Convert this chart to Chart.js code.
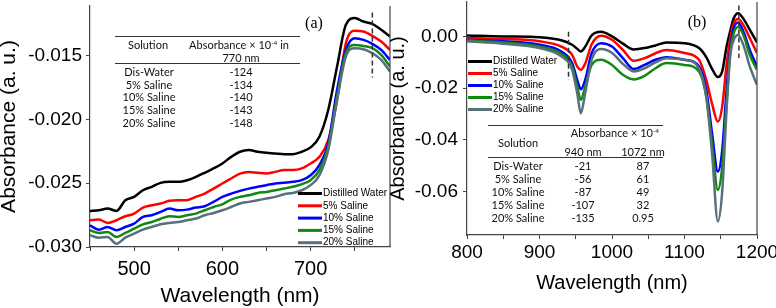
<!DOCTYPE html>
<html lang="en">
<head>
<meta charset="UTF-8">
<title>Absorbance spectra of saline solutions</title>
<script src="https://cdn.jsdelivr.net/npm/chart.js"></script>
<style>
  html, body { margin: 0; padding: 0; background: #fff; }
  #wrap { position: relative; width: 776px; height: 308px; overflow: hidden; }
  canvas { position: absolute; top: 0; }
  #chartA { left: 0; }
  #chartB { left: 390px; }
  .cell { position: absolute; transform: translate(-50%, -50%); white-space: nowrap;
          font-family: Lato, "Open Sans", sans-serif; font-size: 11px; line-height: 1; color: #111; }
  .cell sup { font-size: 6.5px; vertical-align: 4px; line-height: 0; }
  .rule { position: absolute; height: 0; border-top: 1px solid #333; }
</style>
</head>
<body>
<div id="wrap">
  <canvas id="chartA" width="392" height="308"></canvas>
  <canvas id="chartB" width="386" height="308"></canvas>
</div>
<script>
// ---- panel (a): 450-790 nm ----
const wlA = [450, 460, 470, 480, 490, 500, 510, 520, 530, 540, 550, 560, 570, 580, 590, 600, 610,
             620, 630, 640, 650, 660, 670, 680, 690, 700, 710, 720, 730, 740, 750, 760, 770, 780, 790];
const waterA = [-0.02717, -0.02712, -0.02699, -0.02717, -0.02633, -0.02607, -0.02555, -0.02528, -0.02497,
                -0.02489, -0.02489, -0.02476, -0.02450, -0.02418, -0.02384, -0.02345, -0.02293, -0.02253,
                -0.02240, -0.02253, -0.02261, -0.02266, -0.02272, -0.02272, -0.02253, -0.02219, -0.02135,
                -0.01926, -0.01585, -0.01258, -0.01205, -0.01232, -0.01250, -0.01297, -0.01349];
const sal5A = [-0.02790, -0.02785, -0.02811, -0.02790, -0.02759, -0.02738, -0.02691, -0.02673, -0.02659,
               -0.02638, -0.02633, -0.02633, -0.02607, -0.02581, -0.02542, -0.02502, -0.02463, -0.02424,
               -0.02411, -0.02418, -0.02424, -0.02411, -0.02397, -0.02397, -0.02384, -0.02345, -0.02293,
               -0.02162, -0.01847, -0.01402, -0.01305, -0.01310, -0.01344, -0.01389, -0.01454];
const sal10A = [-0.02830, -0.02864, -0.02843, -0.02869, -0.02843, -0.02817, -0.02764, -0.02751, -0.02725,
                -0.02699, -0.02712, -0.02707, -0.02691, -0.02680, -0.02646, -0.02607, -0.02581, -0.02560,
                -0.02542, -0.02528, -0.02515, -0.02502, -0.02497, -0.02489, -0.02476, -0.02437, -0.02358,
                -0.02188, -0.01769, -0.01454, -0.01363, -0.01376, -0.01407, -0.01454, -0.01533];
const sal15A = [-0.02869, -0.02890, -0.02882, -0.02921, -0.02890, -0.02856, -0.02822, -0.02804, -0.02778,
                -0.02759, -0.02764, -0.02751, -0.02738, -0.02712, -0.02686, -0.02665, -0.02628, -0.02607,
                -0.02594, -0.02576, -0.02568, -0.02555, -0.02542, -0.02528, -0.02507, -0.02476, -0.02397,
                -0.02214, -0.01821, -0.01480, -0.01415, -0.01423, -0.01441, -0.01494, -0.01585];
const sal20A = [-0.02908, -0.02927, -0.02921, -0.02974, -0.02927, -0.02895, -0.02864, -0.02843, -0.02822,
                -0.02811, -0.02804, -0.02790, -0.02777, -0.02751, -0.02733, -0.02712, -0.02686, -0.02659,
                -0.02646, -0.02633, -0.02620, -0.02607, -0.02586, -0.02576, -0.02555, -0.02515, -0.02437,
                -0.02240, -0.01847, -0.01507, -0.01441, -0.01449, -0.01480, -0.01533, -0.01625];

// ---- panel (b): 800-1200 nm ----
const wlB = [800, 850, 900, 930, 945, 952, 957, 963, 972, 985, 1000, 1015, 1030, 1045, 1060, 1075,
             1100, 1120, 1130, 1138, 1146, 1152, 1158, 1163, 1168, 1174, 1182, 1190, 1200];
const waterB = [0.0004, 0.0000, -0.0003, -0.0015, -0.0032, -0.0048, -0.0058, -0.0040, 0.0004, 0.0018,
                0.0000, -0.0028, -0.0050, -0.0045, -0.0035, -0.0023, -0.0026, -0.0045, -0.0080, -0.0125,
                -0.0157, -0.0135, -0.0040, 0.0020, 0.0071, 0.0090, 0.0065, 0.0026, -0.0023];
const sal5B = [-0.0006, -0.0010, -0.0019, -0.0039, -0.0071, -0.0116, -0.0129, -0.0105, -0.0030, 0.0003,
               -0.0013, -0.0052, -0.0094, -0.0084, -0.0065, -0.0052, -0.0064, -0.0090, -0.0168, -0.0260,
               -0.0329, -0.0271, -0.0110, -0.0010, 0.0050, 0.0067, 0.0040, -0.0006, -0.0064];
const sal10B = [-0.0013, -0.0019, -0.0032, -0.0058, -0.0103, -0.0168, -0.0204, -0.0168, -0.0064, -0.0026,
                -0.0039, -0.0084, -0.0126, -0.0110, -0.0090, -0.0080, -0.0090, -0.0116, -0.0206, -0.0374,
                -0.0522, -0.0440, -0.0210, -0.0052, 0.0032, 0.0054, 0.0013, -0.0052, -0.0116];
const sal15B = [-0.0015, -0.0023, -0.0039, -0.0067, -0.0116, -0.0194, -0.0245, -0.0194, -0.0110, -0.0090,
                -0.0110, -0.0148, -0.0166, -0.0152, -0.0123, -0.0103, -0.0110, -0.0135, -0.0232, -0.0413,
                -0.0593, -0.0503, -0.0258, -0.0065, 0.0013, 0.0036, 0.0000, -0.0071, -0.0129];
const sal20B = [-0.0019, -0.0028, -0.0045, -0.0077, -0.0129, -0.0219, -0.0297, -0.0219, -0.0090, -0.0049,
                -0.0064, -0.0106, -0.0135, -0.0123, -0.0100, -0.0084, -0.0090, -0.0123, -0.0232, -0.0451,
                -0.0715, -0.0600, -0.0284, -0.0077, -0.0013, 0.0006, -0.0039, -0.0116, -0.0187];

const seriesNames = ['Distilled Water', '5% Saline', '10% Saline', '15% Saline', '20% Saline'];
const seriesColors = ['#000000', '#ff0000', '#0000ff', '#118811', '#56707c'];

// inset tables
const solutions = ['Dis-Water', '5% Saline', '10% Saline', '15% Saline', '20% Saline'];
const abs770 = ['-124', '-134', '-140', '-143', '-148'];
const abs940 = ['-21', '-56', '-87', '-107', '-135'];
const abs1072 = ['87', '61', '49', '32', '0.95'];

// dashed marker lines: [wavelength, from, to]
const markersA = [[770, -0.0116, -0.0167]];
const markersB = [[940, 0.0018, -0.0168], [1175, 0.0119, -0.0083]];

const FONT = '"Liberation Sans", Arial, sans-serif';

function toPoints(xs, ys) { return xs.map((x, i) => ({ x: x, y: ys[i] })); }

function makeDatasets(xs, list) {
  return list.map((ys, i) => ({
    label: seriesNames[i],
    data: toPoints(xs, ys),
    borderColor: seriesColors[i],
    borderWidth: 2.5,
    pointRadius: 0,
    cubicInterpolationMode: 'monotone',
    order: list.length - i
  }));
}

// extra drawing: right frame, dashed markers, inline legend, panel letter
const decor = {
  id: 'decor',
  afterDatasetsDraw(chart, args, opts) {
    const { ctx, chartArea: area, scales: { x, y } } = chart;
    ctx.save();
    ctx.strokeStyle = '#444';
    ctx.lineWidth = 1.2;
    ctx.beginPath();
    ctx.moveTo(area.right, area.top);
    ctx.lineTo(area.right, area.bottom);
    ctx.stroke();

    ctx.setLineDash([5, 3]);
    ctx.lineWidth = 1.5;
    ctx.strokeStyle = '#333';
    opts.markers.forEach(m => {
      const px = x.getPixelForValue(m[0]);
      ctx.beginPath();
      ctx.moveTo(px, y.getPixelForValue(m[1]));
      ctx.lineTo(px, y.getPixelForValue(m[2]));
      ctx.stroke();
    });
    ctx.setLineDash([]);

    ctx.font = '10px ' + FONT;
    ctx.textBaseline = 'middle';
    ctx.textAlign = 'left';
    chart.data.datasets.forEach((ds, i) => {
      const lx = area.left + opts.legendX;
      const ly = area.top + opts.legendY + i * opts.legendStep;
      ctx.strokeStyle = ds.borderColor;
      ctx.lineWidth = 3;
      ctx.beginPath();
      ctx.moveTo(lx, ly);
      ctx.lineTo(lx + 24, ly);
      ctx.stroke();
      ctx.fillStyle = '#000';
      ctx.fillText(ds.label, lx + 25, ly);
    });

    ctx.font = '16px "Liberation Serif", "Times New Roman", serif';
    ctx.textAlign = 'center';
    ctx.fillText(opts.label, area.left + opts.labelX, area.top + opts.labelY);
    ctx.restore();
  }
};

function makeOptions(p) {
  return {
    responsive: false,
    animation: false,
    events: [],
    layout: { padding: { top: p.top, right: p.right, left: 0, bottom: 0 } },
    plugins: {
      legend: { display: false },
      tooltip: { enabled: false },
      decor: p.decor
    },
    scales: {
      x: {
        type: 'linear',
        min: p.xmin, max: p.xmax,
        afterFit(s) { s.height = p.xh; s.paddingLeft = 0; s.paddingRight = 0; },
        border: { color: '#444', width: 1.2 },
        grid: { drawOnChartArea: false, tickLength: 4, color: '#444', tickWidth: 1 },
        ticks: {
          stepSize: 50, autoSkip: false, maxRotation: 0, includeBounds: false,
          padding: p.xtickPad, color: '#000',
          font: { family: FONT, size: p.xtickSize },
          callback: v => (v % 100 === 0 ? String(v) : '')
        },
        title: {
          display: true, text: 'Wavelength (nm)', color: '#000',
          font: { family: FONT, size: p.xtitleSize, lineHeight: 1 },
          padding: { top: 0, bottom: p.xtitlePad }
        }
      },
      y: {
        min: p.ymin, max: p.ymax,
        afterFit(s) { s.width = p.yw; s.paddingTop = 0; s.paddingBottom = 0; },
        border: { color: '#444', width: 1.2 },
        grid: { drawOnChartArea: false, tickLength: 4, color: '#444', tickWidth: 1 },
        ticks: {
          stepSize: p.ystep, includeBounds: false, padding: p.ytickPad, color: '#000',
          font: { family: FONT, size: 19 },
          callback: v => v.toFixed(p.ydec)
        },
        title: {
          display: true, text: 'Absorbance (a. u.)', color: '#000',
          font: { family: FONT, size: p.ytitleSize, lineHeight: 1 },
          padding: { top: p.ytitlePad, bottom: 0 }
        }
      }
    }
  };
}

new Chart(document.getElementById('chartA'), {
  type: 'line',
  data: { datasets: makeDatasets(wlA, [waterA, sal5A, sal10A, sal15A, sal20A]) },
  options: makeOptions({
    top: 6, right: 2, xh: 61, yw: 90,
    xmin: 450, xmax: 790, ymin: -0.030, ymax: -0.0111, ystep: 0.005, ydec: 3,
    xtickPad: 6, xtickSize: 20, xtitleSize: 21, xtitlePad: 1.5,
    ytickPad: 4, ytitleSize: 21, ytitlePad: -1.5,
    decor: { markers: markersA, legendX: 208, legendY: 187.5, legendStep: 12.3,
             label: '(a)', labelX: 224, labelY: 18 }
  }),
  plugins: [decor]
});

new Chart(document.getElementById('chartB'), {
  type: 'line',
  data: { datasets: makeDatasets(wlB, [waterB, sal5B, sal10B, sal15B, sal20B]) },
  options: makeOptions({
    top: 2, right: 19, xh: 73, yw: 77,
    xmin: 800, xmax: 1200, ymin: -0.0767, ymax: 0.0133, ystep: 0.02, ydec: 2,
    xtickPad: 2, xtickSize: 19, xtitleSize: 20, xtitlePad: 14.7,
    ytickPad: 5, ytitleSize: 20, ytitlePad: -1.5,
    decor: { markers: markersB, legendX: 1, legendY: 59.5, legendStep: 12,
             label: '(b)', labelX: 230, labelY: 21 }
  }),
  plugins: [decor]
});

// ---- inset tables (HTML text) ----
const wrap = document.getElementById('wrap');
function cell(html, x, y) {
  const d = document.createElement('div');
  d.className = 'cell';
  d.style.left = x + 'px';
  d.style.top = y + 'px';
  d.innerHTML = html;
  wrap.appendChild(d);
}
function rule(x1, x2, y) {
  const d = document.createElement('div');
  d.className = 'rule';
  d.style.left = x1 + 'px';
  d.style.width = (x2 - x1) + 'px';
  d.style.top = y + 'px';
  wrap.appendChild(d);
}

// table (a)
rule(115, 300, 36);
cell('Solution', 148, 44);
cell('Absorbance × 10<sup>-4</sup> in', 239, 44);
cell('770 nm', 241, 57);
rule(115, 300, 63);
solutions.forEach((s, i) => {
  cell(s, 149, 70.7 + i * 12.8);
  cell(abs770[i], 241, 70.7 + i * 12.8);
});

// table (b)
rule(488, 663, 125);
cell('Absorbance × 10<sup>-4</sup>', 615, 132);
cell('Solution', 518, 142);
cell('940 nm', 583, 151);
cell('1072 nm', 643, 151);
rule(488, 663, 157);
solutions.forEach((s, i) => {
  cell(s, 518, 165 + i * 12.9);
  cell(abs940[i], 583, 165 + i * 12.9);
  cell(abs1072[i], 643, 165 + i * 12.9);
});
</script>
</body>
</html>
